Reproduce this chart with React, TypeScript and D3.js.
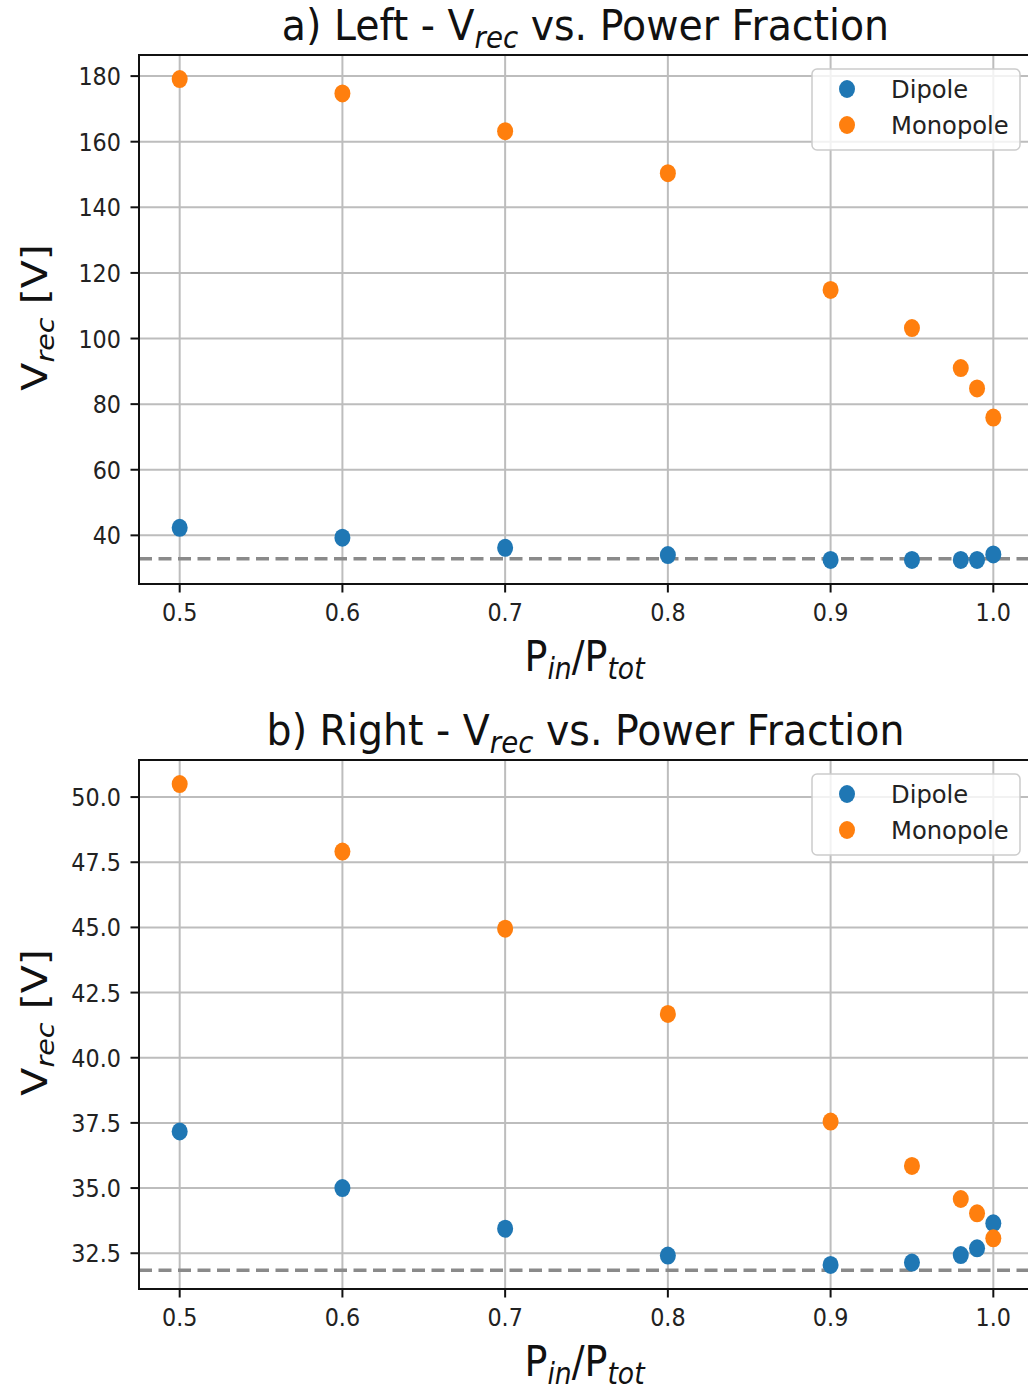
import React from "react";
import * as d3 from "d3";

const powerFraction = [0.5, 0.6, 0.7, 0.8, 0.9, 0.95, 0.98, 0.99, 1.0];
const leftDipole = [42.3, 39.3, 36.2, 34.0, 32.5, 32.5, 32.5, 32.5, 34.2];
const leftMonopole = [179.1, 174.7, 163.2, 150.4, 114.8, 103.2, 91.0, 84.8, 75.9];
const rightDipole = [37.17, 35.0, 33.44, 32.41, 32.05, 32.14, 32.43, 32.69, 33.65];
const rightMonopole = [50.5, 47.91, 44.95, 41.68, 37.55, 35.85, 34.58, 34.03, 33.07];
const leftReference = 32.9;
const rightReference = 31.85;
const xTicks = [0.5, 0.6, 0.7, 0.8, 0.9, 1.0];
const leftYTicks = [40, 60, 80, 100, 120, 140, 160, 180];
const rightYTicks = [32.5, 35.0, 37.5, 40.0, 42.5, 45.0, 47.5, 50.0];
const seriesNames = ["Dipole", "Monopole"];
const seriesColors = ["#1f77b4", "#ff7f0e"];

const FONT = "'DejaVu Sans', sans-serif";
const SX = 0.885;

const W = 1028;
const H = 1385;
const LEFT = 139;
const RIGHT = 1034;
const PH = 529;

function withMargin(vals: number[]): [number, number] {
  const [lo, hi] = d3.extent(vals) as [number, number];
  const m = (hi - lo) * 0.05;
  return [lo - m, hi + m];
}

type PanelProps = {
  top: number;
  prefix: string;
  dipole: number[];
  monopole: number[];
  reference: number;
  yTicks: number[];
  fmt: (v: number) => string;
  side: string;
};

function Panel({ top, prefix, dipole, monopole, reference, yTicks, fmt, side }: PanelProps) {
  const bottom = top + PH;
  const x = d3.scaleLinear().domain(withMargin(powerFraction)).range([LEFT, RIGHT]);
  const y = d3.scaleLinear().domain(withMargin([...dipole, ...monopole])).range([bottom, top]);
  const series = [dipole, monopole];
  const tickFs = 25.2;
  const titleFs = 42;
  const labelFs = 43;
  const cx = (LEFT + RIGHT) / 2;
  const legX = 812;
  const legY = top + 14;
  return (
    <g>
      {xTicks.map((t) => (
        <line key={"gx" + t} x1={x(t)} x2={x(t)} y1={top} y2={bottom} stroke="#bdbdbd" strokeWidth={2} />
      ))}
      {yTicks.map((t) => (
        <line key={"gy" + t} x1={LEFT} x2={RIGHT} y1={y(t)} y2={y(t)} stroke="#bdbdbd" strokeWidth={2} />
      ))}
      <line x1={LEFT} x2={RIGHT} y1={y(reference)} y2={y(reference)} stroke="#8a8a8a" strokeWidth={3.5} strokeDasharray="13,6.5" />
      {series.map((s, si) =>
        s.map((v, i) => (
          <ellipse key={si + "-" + i} cx={x(powerFraction[i])} cy={y(v)} rx={8} ry={9} fill={seriesColors[si]} />
        ))
      )}
      <rect x={LEFT} y={top} width={RIGHT - LEFT} height={PH} fill="none" stroke="#111" strokeWidth={2} />
      {yTicks.map((t) => (
        <g key={"yt" + t}>
          <line x1={LEFT - 8.5} x2={LEFT} y1={y(t)} y2={y(t)} stroke="#111" strokeWidth={2} />
          <text
            transform={`translate(${LEFT - 18},${y(t) + 9}) scale(${SX},1)`}
            textAnchor="end"
            fontFamily={FONT}
            fontSize={tickFs}
            fill="#222"
          >
            {fmt(t)}
          </text>
        </g>
      ))}
      {xTicks.map((t) => (
        <g key={"xt" + t}>
          <line x1={x(t)} x2={x(t)} y1={bottom} y2={bottom + 8.5} stroke="#111" strokeWidth={2} />
          <text
            transform={`translate(${x(t)},${bottom + 37}) scale(${SX},1)`}
            textAnchor="middle"
            fontFamily={FONT}
            fontSize={tickFs}
            fill="#222"
          >
            {d3.format(".1f")(t)}
          </text>
        </g>
      ))}
      <text
        transform={`translate(${cx - 1},${top - 15}) scale(0.94,1)`}
        textAnchor="middle"
        fontFamily={FONT}
        fontSize={titleFs}
        fill="#111"
      >
        {prefix + " " + side + " - V"}
        <tspan fontStyle="italic" fontSize={titleFs * 0.7} dy={8}>rec</tspan>
        <tspan dy={-8}>{" vs. Power Fraction"}</tspan>
      </text>
      <text
        transform={`translate(${cx - 2},${bottom + 87}) scale(${SX},1)`}
        textAnchor="middle"
        fontFamily={FONT}
        fontSize={labelFs}
        fill="#111"
      >
        P
        <tspan fontStyle="italic" fontSize={labelFs * 0.7} dy={8}>in</tspan>
        <tspan dy={-8}>/P</tspan>
        <tspan fontStyle="italic" fontSize={labelFs * 0.7} dy={8}>tot</tspan>
      </text>
      <text
        transform={`translate(47,${(top + bottom) / 2 - 2}) scale(${SX},1) rotate(-90)`}
        textAnchor="middle"
        fontFamily={FONT}
        fontSize={41}
        fill="#111"
      >
        V
        <tspan fontStyle="italic" fontSize={41 * 0.7} dy={8}>rec</tspan>
        <tspan dy={-8}>{" [V]"}</tspan>
      </text>
      <rect x={legX} y={legY} width={208} height={81} rx={5} ry={5} fill="#fff" fillOpacity={0.8} stroke="#cccccc" strokeWidth={1.5} />
      {seriesNames.map((n, i) => (
        <g key={n}>
          <ellipse cx={847} cy={legY + 20 + i * 36} rx={8} ry={9} fill={seriesColors[i]} />
          <text
            transform={`translate(891,${legY + 29 + i * 36}) scale(0.97,1)`}
            fontFamily={FONT}
            fontSize={25}
            fill="#222"
          >
            {n}
          </text>
        </g>
      ))}
    </g>
  );
}

export default function App() {
  return (
    <svg
      width={W}
      height={H}
      viewBox={`0 0 ${W} ${H}`}
      style={{ position: "absolute", left: 0, top: 0, background: "#fff", overflow: "hidden" }}
    >
      <rect x={0} y={0} width={W} height={H} fill="#fff" />
      <Panel
        top={55}
        prefix="a)"
        side="Left"
        dipole={leftDipole}
        monopole={leftMonopole}
        reference={leftReference}
        yTicks={leftYTicks}
        fmt={d3.format("d")}
      />
      <Panel
        top={760}
        prefix="b)"
        side="Right"
        dipole={rightDipole}
        monopole={rightMonopole}
        reference={rightReference}
        yTicks={rightYTicks}
        fmt={d3.format(".1f")}
      />
    </svg>
  );
}
